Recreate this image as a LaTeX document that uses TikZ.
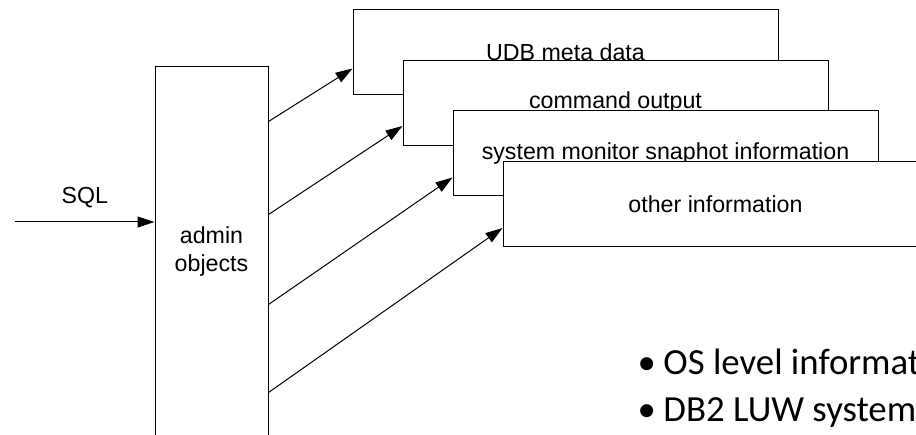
\documentclass[tikz,border=0pt]{standalone}
\usepackage{fontspec}
\setmainfont{Liberation Sans}
\newfontfamily\slidefont{Carlito}
\usetikzlibrary{arrows.meta,positioning}

\begin{document}
\begin{tikzpicture}[x=1pt, y=-1pt, line width=1pt,
  font=\fontsize{23.2}{28}\selectfont,
  >={Triangle[length=17pt,width=11pt]},
  infobox/.style={draw, fill=white, minimum width=425pt, minimum height=85pt, inner sep=0pt},
  bullet/.style={anchor=base west, inner sep=0pt, font=\slidefont\fontsize{36.8}{44}\selectfont}]
  \useasboundingbox (0,0) rectangle (916,435);
  \clip (0,0) rectangle (916,435);
  \node[draw, minimum width=113pt, minimum height=370pt, inner sep=0pt, align=center] (adm) at (211.5,252) {admin\\objects};
  \foreach \i/\txt in {1/UDB meta data, 2/command output, 3/system monitor snaphot information, 4/other information}
    \node[infobox] (b\i) at (565.5+50*\i-50, 52.5+50.5*\i-50.5) {\txt};
  \coordinate (sqlin) at (15,222);
  \draw[->] (sqlin) -- (sqlin -| adm.west) node[midway, above=14pt, inner sep=0pt] {SQL};
  \foreach \i/\a/\b in {1/55/16, 2/148/23, 3/238/24, 4/326/24}
    \draw[->] ([yshift=-\a pt]adm.north east) -- ([yshift=-\b pt]b\i.west);
  \node[bullet] (os) at (637,375) {\makebox[26pt][l]{•}OS level informat};
  \node[bullet] (luw) at (637,422) {\makebox[26pt][l]{•}DB2 LUW system};
\end{tikzpicture}
\end{document}
